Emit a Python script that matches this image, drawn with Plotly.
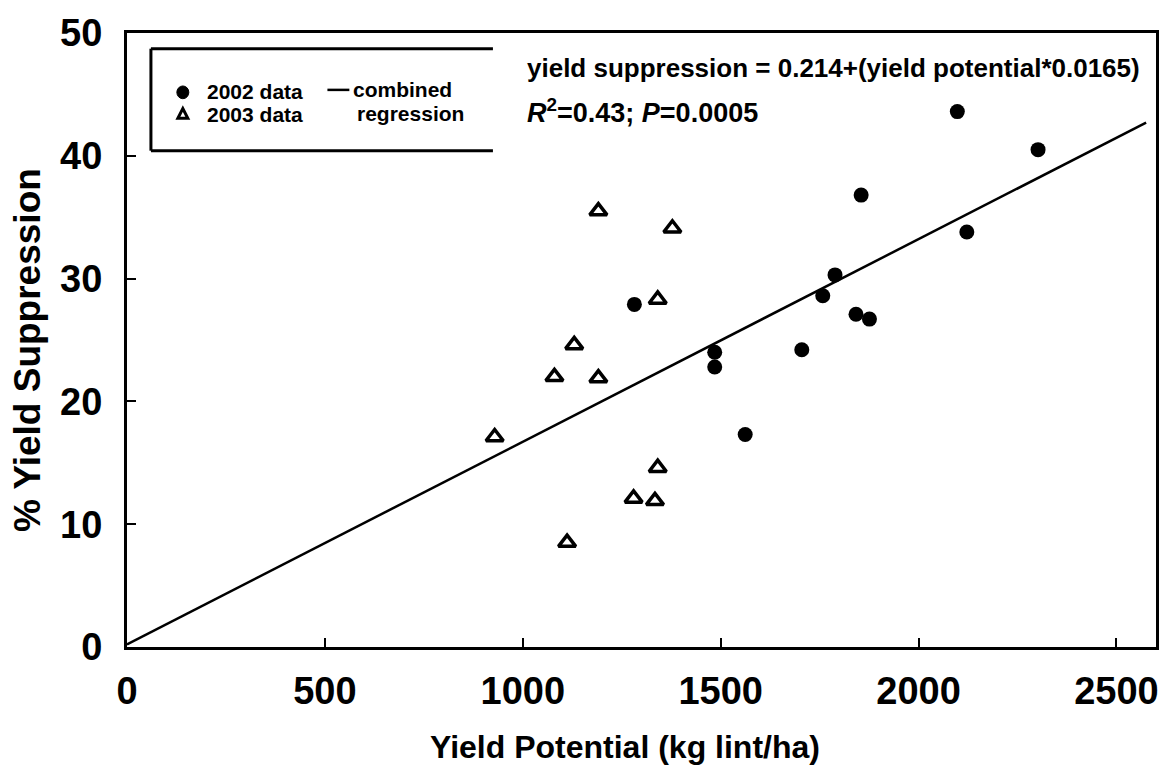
import plotly.graph_objects as go

# ---- data ----
x_2002 = [1282, 1485, 1485, 1562, 1705, 1758, 1789, 1842, 1855, 1876, 2098, 2122, 2302]
y_2002 = [27.9, 24.0, 22.8, 17.3, 24.2, 28.6, 30.3, 27.1, 36.8, 26.7, 43.6, 33.8, 40.5]

x_2003 = [929, 1080, 1112, 1130, 1191, 1191, 1280, 1334, 1341, 1341, 1378]
y_2003 = [17.1, 22.0, 8.5, 24.6, 35.5, 21.9, 12.1, 11.9, 28.3, 14.6, 34.1]

reg_intercept = 0.214
reg_slope = 0.0165
reg_x = [0, 2575]
reg_y = [reg_intercept + reg_slope * v for v in reg_x]

x_ticks = [0, 500, 1000, 1500, 2000, 2500]
y_ticks = [0, 10, 20, 30, 40, 50]

FONT = "Liberation Sans, Arial, sans-serif"

# plot-area pixel geometry (for placing decorations)
L, R, T, B = 127, 1159, 21, 647
W, H = 1171, 777


def px(xp):
    return (xp - L) / (R - L)


def py(yp):
    return (B - yp) / (B - T)


fig = go.Figure()
fig.add_trace(go.Scatter(x=reg_x, y=reg_y, mode="lines",
                         line=dict(color="black", width=2.5), showlegend=False,
                         name="combined regression"))
fig.add_trace(go.Scatter(x=x_2002, y=y_2002, mode="markers", name="2002 data",
                         marker=dict(symbol="circle", size=15, color="black"),
                         showlegend=False))
fig.add_trace(go.Scatter(x=x_2003, y=y_2003, mode="markers", name="2003 data",
                         marker=dict(symbol="triangle-up-open", size=15, color="black",
                                     line=dict(width=3.5, color="black")),
                         showlegend=False))

axis_common = dict(showgrid=False, zeroline=False, showline=True, linewidth=3,
                   linecolor="black", mirror=True, ticks="inside", ticklen=9,
                   tickwidth=2, tickcolor="black",
                   tickfont=dict(family=FONT, size=38, color="black", weight="bold"))

fig.update_xaxes(range=[0, 2600], tickvals=x_ticks, ticktext=[str(v) for v in x_ticks],
                 ticklabelstandoff=8, **axis_common)
fig.update_yaxes(range=[0, 50], tickvals=y_ticks, ticktext=[str(v) for v in y_ticks],
                 ticklabelstandoff=14, **axis_common)

shapes = []
# legend box (left, top, bottom borders)
for x0, y0, x1, y1 in [(151, 37, 151, 141), (151, 37, 494, 37), (151, 141, 494, 141)]:
    shapes.append(dict(type="line", xref="paper", yref="paper",
                       x0=px(x0), y0=py(y0), x1=px(x1), y1=py(y1),
                       line=dict(color="black", width=3)))
# legend symbols
shapes.append(dict(type="circle", xref="paper", yref="paper",
                   x0=px(177), x1=px(189), y0=py(75), y1=py(88),
                   fillcolor="black", line=dict(color="black", width=1)))
tri = "M {},{} L {},{} L {},{} Z".format(px(178), py(108), px(188), py(108), px(183), py(98))
shapes.append(dict(type="path", xref="paper", yref="paper", path=tri,
                   line=dict(color="black", width=3)))
shapes.append(dict(type="line", xref="paper", yref="paper",
                   x0=px(328), x1=px(350), y0=py(79), y1=py(79),
                   line=dict(color="black", width=2.5)))

ann_font = dict(family=FONT, color="black", weight="bold")
annotations = [
    dict(text="2002 data", x=px(206), y=py(81), xanchor="left", yanchor="middle",
         font=dict(size=21, **ann_font), borderpad=0),
    dict(text="2003 data", x=px(206), y=py(104), xanchor="left", yanchor="middle",
         font=dict(size=21, **ann_font), borderpad=0),
    dict(text="combined", x=px(353), y=py(79), xanchor="left", yanchor="middle",
         font=dict(size=21, **ann_font), borderpad=0),
    dict(text="regression", x=px(357), y=py(103), xanchor="left", yanchor="middle",
         font=dict(size=21, **ann_font), borderpad=0),
    dict(text="yield suppression = 0.214+(yield potential*0.0165)", x=px(526), y=py(57),
         xanchor="left", yanchor="middle", font=dict(size=26, **ann_font)),
    dict(text="<i>R</i><sup>2</sup>=0.43; <i>P</i>=0.0005", x=px(526), y=py(101),
         xanchor="left", yanchor="middle", font=dict(size=27, **ann_font)),
    dict(text="Yield Potential (kg lint/ha)", x=px(626), y=py(749),
         xanchor="center", yanchor="middle", font=dict(size=32, **ann_font)),
    dict(text="% Yield Suppression", x=px(28), y=py(344), textangle=-90,
         xanchor="center", yanchor="middle", font=dict(size=37, **ann_font)),
]
for a in annotations:
    a.update(xref="paper", yref="paper", showarrow=False)

fig.update_layout(width=W, height=H, margin=dict(l=L, r=W - R, t=T, b=H - B),
                  paper_bgcolor="white", plot_bgcolor="white",
                  shapes=shapes, annotations=annotations, showlegend=False)

fig.write_html("out.html")
